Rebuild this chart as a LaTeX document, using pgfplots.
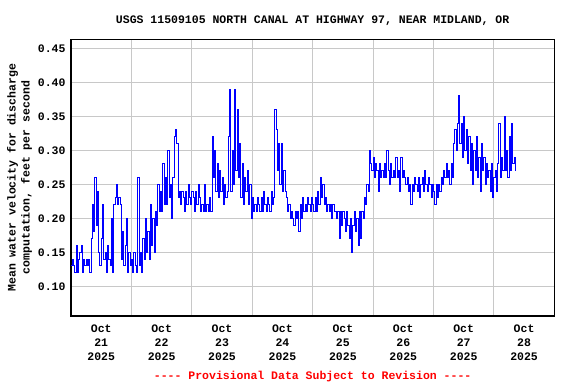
\documentclass[border=0pt]{standalone}
\usepackage{fontspec}
\setmainfont{Liberation Mono}
\setmonofont{Liberation Mono}
\usepackage{pgfplots}
\pgfplotsset{compat=1.18}
\definecolor{gridgray}{RGB}{200,200,200}
\definecolor{usgsblue}{RGB}{0,0,255}
\definecolor{usgsred}{RGB}{255,0,0}
\newcommand{\lbl}{\fontsize{11.5}{14}\selectfont\bfseries}
\begin{document}
\begin{tikzpicture}
\useasboundingbox (-71pt,-68pt) rectangle (505pt,316pt);
\begin{axis}[
  at={(0,0)}, anchor=south west,
  scale only axis, width=483.3pt, height=276.7pt,
  xmin=0, xmax=192, ymin=0.0563, ymax=0.4632,
  xtick={12,36,60,84,108,132,156,180},
  xticklabels={{Oct\\21\\2025},{Oct\\22\\2025},{Oct\\23\\2025},{Oct\\24\\2025},{Oct\\25\\2025},{Oct\\26\\2025},{Oct\\27\\2025},{Oct\\28\\2025}},
  minor xtick={24,48,72,96,120,144,168},
  xminorgrids=true, xmajorgrids=false,
  ytick={0.10,0.15,0.20,0.25,0.30,0.35,0.40,0.45},
  yticklabels={0.10,0.15,0.20,0.25,0.30,0.35,0.40,0.45},
  ymajorgrids=true,
  major tick length=0pt, minor tick length=0pt,
  grid style={gridgray, line width=1pt},
  minor grid style={gridgray, line width=1pt},
  axis line style={black, line width=1.3pt},
  /pgf/number format/assume math mode=true,
  tick label style={font=\lbl},
  xticklabel style={align=center, anchor=north, yshift=-5pt},
  yticklabel style={anchor=east, xshift=-2pt},
  ylabel={Mean water velocity for discharge\\computation, feet per second},
  every axis y label/.style={at={(axis description cs:-0.1066,0.5)}, rotate=90, anchor=center, align=center, font=\lbl},
  title={USGS 11509105 NORTH CANAL AT HIGHWAY 97, NEAR MIDLAND, OR},
  title style={at={(axis description cs:0.5,1)}, anchor=base, yshift=9.5pt, font=\lbl},
  clip=true, clip mode=individual,
]
\addplot[usgsblue, line width=0.9pt, mark=none, const plot] coordinates {
(0,0.13) (0.5,0.14) (1,0.13) (1.5,0.12) (2,0.16) (2.5,0.12) (3,0.14) (3.5,0.15) (4,0.16) (4.5,0.12) (5,0.14) (5.5,0.13) (6,0.14) (6.5,0.13) (7,0.14)
(7.5,0.12) (8,0.17) (8.5,0.22) (9,0.18) (9.5,0.26) (10,0.19) (10.5,0.24) (11,0.15) (11.5,0.13) (12,0.17) (12.5,0.22) (13,0.14) (13.5,0.15) (14,0.12)
(14.5,0.16) (15,0.14) (15.5,0.13) (16,0.20) (16.5,0.12) (17,0.22) (17.5,0.23) (18,0.25) (18.5,0.22) (19,0.23) (19.5,0.22) (20,0.14) (20.5,0.18)
(21,0.13) (21.5,0.16) (22,0.20) (22.5,0.12) (23,0.15) (23.5,0.13) (24,0.14) (24.5,0.12) (25,0.15) (25.5,0.13) (26,0.12) (26.5,0.26) (27,0.13)
(27.5,0.15) (28,0.12) (28.5,0.17) (29,0.14) (29.5,0.20) (30,0.15) (30.5,0.18) (31,0.14) (31.5,0.22) (32,0.16) (32.5,0.20) (33,0.15) (33.5,0.21)
(34,0.19) (34.5,0.25) (35,0.21) (35.5,0.24) (36,0.21) (36.5,0.28) (37,0.22) (37.5,0.26) (38,0.22) (38.5,0.30) (39,0.23) (39.5,0.25) (40,0.20)
(40.5,0.26) (41,0.32) (41.5,0.33) (42,0.31) (42.5,0.23) (43,0.24) (43.5,0.22) (44,0.24) (44.5,0.23) (45,0.21) (45.5,0.24) (46,0.22) (46.5,0.25)
(47,0.23) (47.5,0.22) (48,0.24) (48.5,0.23) (49,0.21) (49.5,0.24) (50,0.22) (50.5,0.25) (51,0.23) (51.5,0.21) (52,0.22) (52.5,0.21) (53,0.25)
(53.5,0.21) (54,0.22) (54.5,0.21) (55,0.23) (55.5,0.21) (56,0.32) (56.5,0.26) (57,0.30) (57.5,0.24) (58,0.28) (58.5,0.23) (59,0.27) (59.5,0.24)
(60,0.26) (60.5,0.22) (61,0.25) (61.5,0.23) (62,0.24) (62.5,0.32) (63,0.39) (63.5,0.24) (64,0.30) (64.5,0.25) (65,0.39) (65.5,0.27) (66,0.36)
(66.5,0.26) (67,0.31) (67.5,0.23) (68,0.28) (68.5,0.22) (69,0.26) (69.5,0.24) (70,0.27) (70.5,0.22) (71,0.25) (71.5,0.20) (72,0.23) (72.5,0.21)
(73,0.22) (73.5,0.21) (74,0.23) (74.5,0.22) (75,0.21) (75.5,0.23) (76,0.21) (76.5,0.24) (77,0.22) (77.5,0.21) (78,0.23) (78.5,0.22) (79,0.21)
(79.5,0.24) (80,0.22) (80.5,0.23) (81,0.36) (81.5,0.33) (82,0.27) (82.5,0.31) (83,0.25) (83.5,0.31) (84,0.24) (84.5,0.27) (85,0.24) (85.5,0.23)
(86,0.21) (86.5,0.22) (87,0.20) (87.5,0.21) (88,0.20) (88.5,0.19) (89,0.21) (89.5,0.20) (90,0.21) (90.5,0.18) (91,0.22) (91.5,0.20) (92,0.23)
(92.5,0.21) (93,0.22) (93.5,0.21) (94,0.23) (94.5,0.22) (95,0.21) (95.5,0.23) (96,0.22) (96.5,0.21) (97,0.23) (97.5,0.21) (98,0.24) (98.5,0.22)
(99,0.26) (99.5,0.23) (100,0.25) (100.5,0.22) (101,0.23) (101.5,0.21) (102,0.22) (102.5,0.21) (103,0.22) (103.5,0.20) (104,0.22) (104.5,0.21)
(105,0.21) (105.5,0.20) (106,0.21) (106.5,0.17) (107,0.21) (107.5,0.19) (108,0.21) (108.5,0.20) (109,0.18) (109.5,0.21) (110,0.19) (110.5,0.17)
(111,0.20) (111.5,0.15) (112,0.19) (112.5,0.21) (113,0.18) (113.5,0.20) (114,0.16) (114.5,0.21) (115,0.17) (115.5,0.21) (116,0.20) (116.5,0.23)
(117,0.22) (117.5,0.25) (118,0.24) (118.5,0.30) (119,0.28) (119.5,0.27) (120,0.29) (120.5,0.26) (121,0.28) (121.5,0.27) (122,0.24) (122.5,0.28)
(123,0.26) (123.5,0.27) (124,0.26) (124.5,0.28) (125,0.26) (125.5,0.30) (126,0.27) (126.5,0.25) (127,0.28) (127.5,0.26) (128,0.27) (128.5,0.26)
(129,0.29) (129.5,0.26) (130,0.27) (130.5,0.24) (131,0.29) (131.5,0.26) (132,0.27) (132.5,0.26) (133,0.25) (133.5,0.26) (134,0.24) (134.5,0.25)
(135,0.22) (135.5,0.25) (136,0.24) (136.5,0.26) (137,0.25) (137.5,0.24) (138,0.26) (138.5,0.23) (139,0.25) (139.5,0.26) (140,0.24) (140.5,0.27)
(141,0.25) (141.5,0.24) (142,0.26) (142.5,0.25) (143,0.23) (143.5,0.25) (144,0.24) (144.5,0.22) (145,0.25) (145.5,0.23) (146,0.25) (146.5,0.24)
(147,0.26) (147.5,0.25) (148,0.27) (148.5,0.26) (149,0.28) (149.5,0.26) (150,0.27) (150.5,0.25) (151,0.28) (151.5,0.26) (152,0.31) (152.5,0.33)
(153,0.30) (153.5,0.34) (154,0.38) (154.5,0.31) (155,0.34) (155.5,0.29) (156,0.35) (156.5,0.30) (157,0.33) (157.5,0.28) (158,0.32) (158.5,0.27)
(159,0.31) (159.5,0.25) (160,0.30) (160.5,0.27) (161,0.32) (161.5,0.26) (162,0.29) (162.5,0.24) (163,0.31) (163.5,0.27) (164,0.29) (164.5,0.25)
(165,0.28) (165.5,0.26) (166,0.27) (166.5,0.24) (167,0.28) (167.5,0.23) (168,0.26) (168.5,0.27) (169,0.24) (169.5,0.28) (170,0.34) (170.5,0.26)
(171,0.29) (171.5,0.27) (172,0.35) (172.5,0.27) (173,0.30) (173.5,0.26) (174,0.32) (174.5,0.27) (175,0.34) (175.5,0.28) (176,0.29) (176.5,0.27)
};
\node[anchor=base, font=\lbl, text=usgsred] at (axis description cs:0.5,0) [yshift=-63pt] {-{}-{}-{}- Provisional Data Subject to Revision -{}-{}-{}-};
\end{axis}
\end{tikzpicture}
\end{document}
